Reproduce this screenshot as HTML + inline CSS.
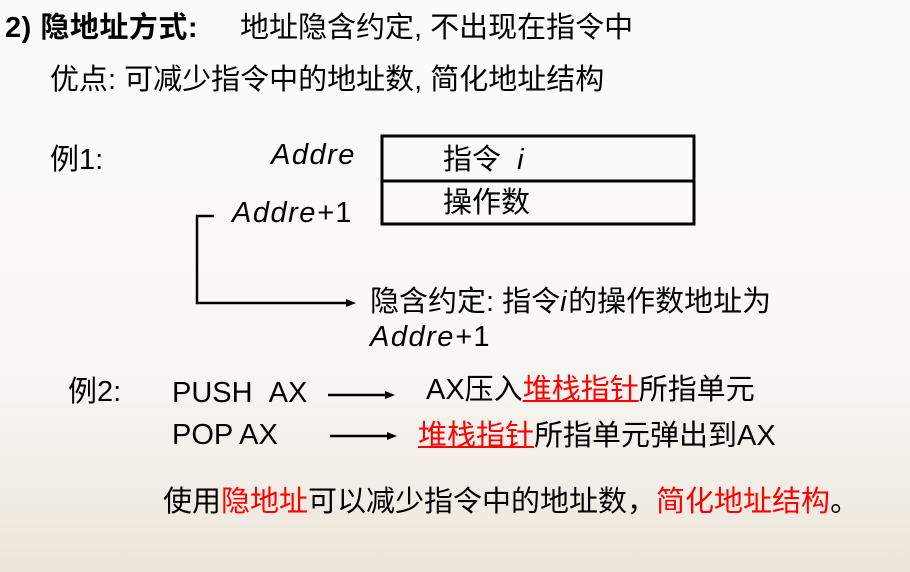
<!DOCTYPE html>
<html><head><meta charset="utf-8"><style>
body{margin:0;width:910px;height:572px;overflow:hidden;position:relative;
background:linear-gradient(#fbfbfa 0%,#f9f8f6 60%,#f2ede6 85%,#ede5da 100%);
font-family:"Liberation Sans","Noto Sans CJK SC",sans-serif;color:#000;}
.t{position:absolute;font-size:29px;line-height:32px;white-space:nowrap}
i{font-style:italic;letter-spacing:1.5px}
.r{color:#f00}
.u{text-decoration:underline;text-decoration-thickness:1.5px}
svg{position:absolute;left:0;top:0}
</style></head><body>
<svg width="910" height="572">
<rect x="382" y="136" width="312" height="88" fill="none" stroke="#000" stroke-width="3"/>
<line x1="382" y1="181" x2="694" y2="181" stroke="#000" stroke-width="3"/>
<polyline points="214,216 197,216 197,303 348,303" fill="none" stroke="#000" stroke-width="2.5"/>
<polygon points="356,303 346,299 346,307" fill="#000"/>
<line x1="328" y1="395" x2="386" y2="395" stroke="#000" stroke-width="2.5"/>
<polygon points="395,395 385,391 385,399" fill="#000"/>
<line x1="330" y1="436" x2="388" y2="436" stroke="#000" stroke-width="2.5"/>
<polygon points="397,436 387,432 387,440" fill="#000"/>
</svg>
<div class="t" style="left:5px;top:12px;font-weight:bold;letter-spacing:0.5px">2) 隐地址方式:</div>
<div class="t" style="left:240px;top:12px">地址隐含约定, 不出现在指令中</div>
<div class="t" style="left:50px;top:64px">优点: 可减少指令中的地址数, 简化地址结构</div>
<div class="t" style="left:50px;top:144px">例1:</div>
<div class="t" style="left:271px;top:139px"><i>Addre</i></div>
<div class="t" style="left:443px;top:144px">指令 &nbsp;<i>i</i></div>
<div class="t" style="left:443px;top:187px">操作数</div>
<div class="t" style="left:232px;top:197px"><i>Addre+</i>1</div>
<div class="t" style="left:370px;top:286px">隐含约定: 指令<i>i</i>的操作数地址为</div>
<div class="t" style="left:370px;top:321px"><i>Addre+</i>1</div>
<div class="t" style="left:68px;top:376px">例2:</div>
<div class="t" style="left:172px;top:377px">PUSH &nbsp;AX</div>
<div class="t" style="left:426px;top:374px">AX压入<span class="r u">堆栈指针</span>所指单元</div>
<div class="t" style="left:172px;top:419px">POP AX</div>
<div class="t" style="left:418px;top:420px"><span class="r u">堆栈指针</span>所指单元弹出到AX</div>
<div class="t" style="left:163px;top:486px">使用<span class="r">隐地址</span>可以减少指令中的地址数，<span class="r">简化地址结构</span>。</div>
</body></html>
